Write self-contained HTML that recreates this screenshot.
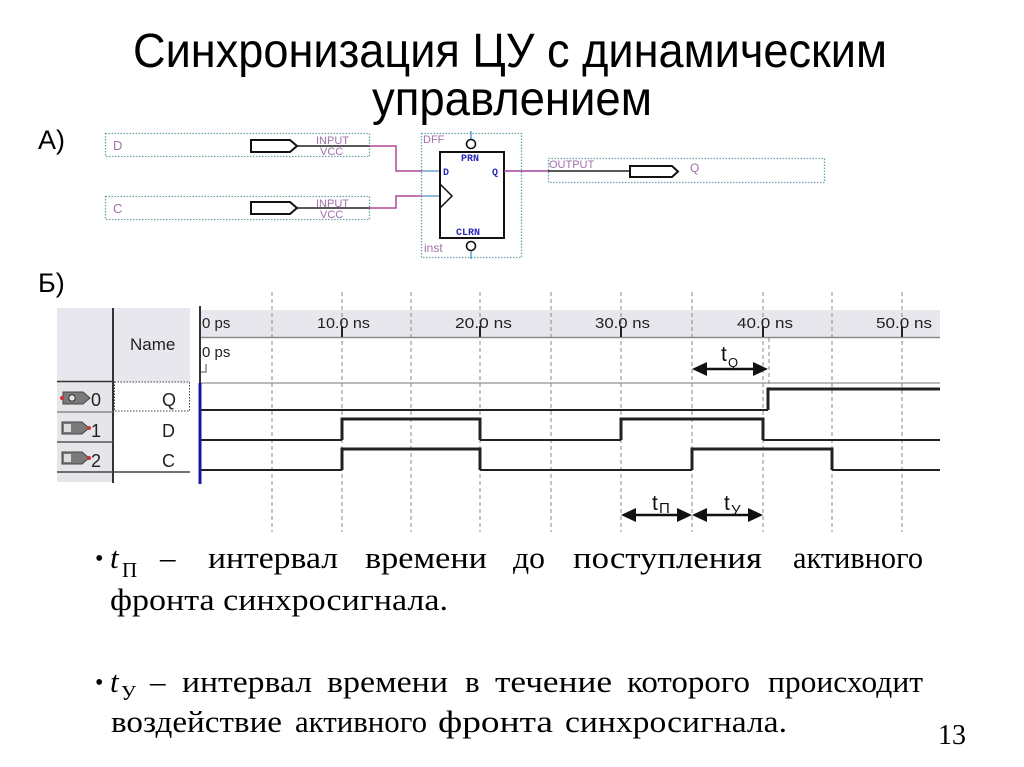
<!DOCTYPE html>
<html>
<head>
<meta charset="utf-8">
<style>
html,body{margin:0;padding:0;background:#fff;}
svg{display:block;}
</style>
</head>
<body>
<svg width="1024" height="767" viewBox="0 0 1024 767" xmlns="http://www.w3.org/2000/svg">
<rect width="1024" height="767" fill="#fff"/>

<!-- Title -->
<g font-family="'Liberation Sans', 'Noto Sans CJK SC', sans-serif" fill="#000">
  <text x="133" y="67" font-size="48" textLength="754" lengthAdjust="spacingAndGlyphs">Синхронизация ЦУ с динамическим</text>
  <text x="372" y="115" font-size="48" textLength="280" lengthAdjust="spacingAndGlyphs">управлением</text>
  <text x="38" y="149" font-size="27">А)</text>
  <text x="38" y="292" font-size="27">Б)</text>
</g>

<!-- Schematic -->
<g font-family="'Liberation Sans', sans-serif">
  <!-- D input -->
  <rect x="105.5" y="133.5" width="264" height="23" fill="none" stroke="#6aa3ab" stroke-width="1.3" stroke-dasharray="1.5 1.5"/>
  <text x="113" y="150" font-size="13" fill="#a070a8">D</text>
  <text x="316" y="144" font-size="11" fill="#a070a8">INPUT</text>
  <text x="320" y="155" font-size="11" fill="#a070a8">VCC</text>
  <line x1="297" y1="146" x2="370" y2="146" stroke="#222" stroke-width="1.5"/>
  <path d="M251 140 H290 L297 146 L290 152 H251 Z" fill="#fff" stroke="#111" stroke-width="2"/>
  <path d="M369 146 H396 V171 H422" fill="none" stroke="#b04898" stroke-width="1.5"/>
  <line x1="422" y1="171" x2="440" y2="171" stroke="#4a90d0" stroke-width="1.3"/>

  <!-- C input -->
  <rect x="105.5" y="196.5" width="264" height="23" fill="none" stroke="#6aa3ab" stroke-width="1.3" stroke-dasharray="1.5 1.5"/>
  <text x="113" y="213" font-size="13" fill="#a070a8">C</text>
  <text x="316" y="207" font-size="11" fill="#a070a8">INPUT</text>
  <text x="320" y="218" font-size="11" fill="#a070a8">VCC</text>
  <line x1="297" y1="208" x2="370" y2="208" stroke="#222" stroke-width="1.5"/>
  <path d="M251 202 H290 L297 208 L290 214 H251 Z" fill="#fff" stroke="#111" stroke-width="2"/>
  <path d="M369 208 H396 V196 H422" fill="none" stroke="#b04898" stroke-width="1.5"/>
  <line x1="422" y1="196" x2="440" y2="196" stroke="#4a90d0" stroke-width="1.3"/>

  <!-- DFF -->
  <rect x="421.5" y="133.5" width="100" height="124" fill="none" stroke="#6aa3ab" stroke-width="1.3" stroke-dasharray="1.5 1.5"/>
  <text x="423" y="143" font-size="11" fill="#a070a8">DFF</text>
  <text x="424" y="252" font-size="12" fill="#a070a8">inst</text>
  <line x1="471" y1="131" x2="471" y2="139" stroke="#4a90d0" stroke-width="1.3"/>
  <line x1="471" y1="251" x2="471" y2="259" stroke="#4a90d0" stroke-width="1.3"/>
  <circle cx="471" cy="144" r="4.5" fill="#fff" stroke="#111" stroke-width="1.6"/>
  <circle cx="471" cy="246" r="4.5" fill="#fff" stroke="#111" stroke-width="1.6"/>
  <rect x="440" y="152" width="64" height="86" fill="#fff" stroke="#111" stroke-width="2"/>
  <path d="M440 184 L452 196 L440 208" fill="none" stroke="#111" stroke-width="1.5"/>
  <g font-family="'Liberation Mono', monospace" font-weight="bold" fill="#2828b8" font-size="10">
    <text x="461" y="161">PRN</text>
    <text x="443" y="175">D</text>
    <text x="492" y="175">Q</text>
    <text x="456" y="235">CLRN</text>
  </g>

  <!-- Output -->
  <line x1="504" y1="171" x2="548" y2="171" stroke="#a040a0" stroke-width="1.5"/>
  <rect x="548.5" y="158.5" width="276" height="24" fill="none" stroke="#6aa3ab" stroke-width="1.3" stroke-dasharray="1.5 1.5"/>
  <text x="549" y="168" font-size="11" fill="#a070a8">OUTPUT</text>
  <line x1="548" y1="171" x2="630" y2="171" stroke="#222" stroke-width="1.5"/>
  <path d="M630 166 H672 L678 171.5 L672 177 H630 Z" fill="#fff" stroke="#111" stroke-width="2"/>
  <text x="690" y="172" font-size="12" fill="#a070a8">Q</text>
</g>

<!-- Waveform panel -->
<g font-family="'Liberation Sans', sans-serif" fill="#222">
  <rect x="57" y="308" width="133" height="74" fill="#e9e7ee"/>
  <rect x="57" y="382" width="56" height="100" fill="#e6e6ea"/>
  <rect x="200" y="310" width="740" height="27" fill="#e9e7ee"/>
  <line x1="200" y1="337.5" x2="940" y2="337.5" stroke="#8a8a8a" stroke-width="1.5"/>
  <line x1="200" y1="383" x2="940" y2="383" stroke="#bbb" stroke-width="2"/>

  <g stroke="#888" stroke-width="1" stroke-dasharray="4 3">
    <line x1="272" y1="292" x2="272" y2="532"/>
    <line x1="342" y1="292" x2="342" y2="532"/>
    <line x1="411" y1="292" x2="411" y2="532"/>
    <line x1="480" y1="292" x2="480" y2="532"/>
    <line x1="551" y1="292" x2="551" y2="532"/>
    <line x1="621" y1="292" x2="621" y2="532"/>
    <line x1="692" y1="292" x2="692" y2="532"/>
    <line x1="763" y1="292" x2="763" y2="532"/>
    <line x1="832" y1="292" x2="832" y2="532"/>
    <line x1="902" y1="292" x2="902" y2="532"/>
    <line x1="769" y1="338" x2="769" y2="390"/>
  </g>
  <g stroke="#222" stroke-width="2">
    <line x1="342" y1="326" x2="342" y2="337"/>
    <line x1="480" y1="326" x2="480" y2="337"/>
    <line x1="621" y1="326" x2="621" y2="337"/>
    <line x1="763" y1="326" x2="763" y2="337"/>
    <line x1="902" y1="326" x2="902" y2="337"/>
  </g>
  <g font-size="15">
    <text x="202" y="328">0 ps</text>
    <text x="317" y="328" textLength="53" lengthAdjust="spacingAndGlyphs">10.0 ns</text>
    <text x="455" y="328" textLength="57" lengthAdjust="spacingAndGlyphs">20.0 ns</text>
    <text x="595" y="328" textLength="55" lengthAdjust="spacingAndGlyphs">30.0 ns</text>
    <text x="737" y="328" textLength="56" lengthAdjust="spacingAndGlyphs">40.0 ns</text>
    <text x="876" y="328" textLength="56" lengthAdjust="spacingAndGlyphs">50.0 ns</text>
    <text x="202" y="357">0 ps</text>
  </g>
  <path d="M206 364 V372 H201" fill="none" stroke="#888" stroke-width="1.5"/>

  <line x1="113" y1="308" x2="113" y2="483" stroke="#333" stroke-width="2"/>
  <line x1="57" y1="381.5" x2="113" y2="381.5" stroke="#333" stroke-width="1.5"/>
  <rect x="114.5" y="382" width="75" height="29" fill="none" stroke="#444" stroke-width="1" stroke-dasharray="1.5 1.5"/>
  <line x1="57" y1="412" x2="113" y2="412" stroke="#777" stroke-width="1.2"/>
  <line x1="57" y1="442" x2="113" y2="442" stroke="#555" stroke-width="1.5"/>
  <line x1="57" y1="472" x2="190" y2="472" stroke="#444" stroke-width="1.5"/>
  <line x1="200" y1="306" x2="200" y2="383" stroke="#333" stroke-width="2"/>
  <line x1="200" y1="383" x2="200" y2="484" stroke="#1a1aa0" stroke-width="3"/>

  <text x="130" y="350" font-size="17">Name</text>
  <g font-size="18">
    <text x="162" y="406">Q</text>
    <text x="162" y="437">D</text>
    <text x="162" y="467">C</text>
    <text x="91" y="406">0</text>
    <text x="91" y="437">1</text>
    <text x="91" y="467">2</text>
  </g>
  <path d="M63 392 H83 L90 398 L83 404 H63 Z" fill="#7a7a7a" stroke="#444" stroke-width="1"/>
  <circle cx="72" cy="398" r="3.2" fill="#e8e8e8" stroke="#333" stroke-width="1"/>
  <circle cx="62" cy="398" r="2" fill="#d03030"/>
  <path d="M62 422 H82 L89 428 L82 434 H62 Z" fill="#7a7a7a" stroke="#444" stroke-width="1"/>
  <rect x="64" y="424" width="7" height="8" fill="#ddd"/>
  <circle cx="89" cy="428" r="2" fill="#d03030"/>
  <path d="M62 452 H82 L89 458 L82 464 H62 Z" fill="#7a7a7a" stroke="#444" stroke-width="1"/>
  <rect x="64" y="454" width="7" height="8" fill="#ddd"/>
  <circle cx="89" cy="458" r="2" fill="#d03030"/>

  <g fill="none" stroke="#222" stroke-linejoin="miter">
    <path d="M201 410 H768" stroke-width="2"/>
    <path d="M768 410 V389 H940" stroke-width="3"/>
    <path d="M201 440 H342 M480 440 H621 M763 440 H940" stroke-width="2"/>
    <path d="M342 440 V419 H480 V440 M621 440 V419 H763 V440" stroke-width="3"/>
    <path d="M201 470 H342 M480 470 H692 M832 470 H940" stroke-width="2"/>
    <path d="M342 470 V449 H480 V470 M692 470 V449 H832 V470" stroke-width="3"/>
  </g>

  <g stroke="#111" stroke-width="2.5">
    <line x1="700" y1="369" x2="760" y2="369"/>
    <line x1="629" y1="515" x2="684" y2="515"/>
    <line x1="700" y1="515" x2="755" y2="515"/>
  </g>
  <g fill="#111">
    <polygon points="692,369 707,362 707,376"/>
    <polygon points="768,369 753,362 753,376"/>
    <polygon points="621,515 636,508 636,522"/>
    <polygon points="692,515 677,508 677,522"/>
    <polygon points="692,515 707,508 707,522"/>
    <polygon points="763,515 748,508 748,522"/>
  </g>
  <g fill="#111">
    <text x="721" y="361" font-size="21">t</text>
    <text x="728" y="367" font-size="13">Q</text>
    <text x="652" y="510" font-size="21">t</text>
    <text x="659" y="513" font-size="15">П</text>
    <text x="724" y="510" font-size="21">t</text>
    <text x="731" y="515" font-size="15">У</text>
  </g>
</g>

<!-- Bottom text -->
<g font-family="'Liberation Serif', 'Noto Serif CJK SC', serif" fill="#000" font-size="31">
  <text x="95" y="566" font-size="24">•</text>
  <text x="110" y="568" font-style="italic">t</text>
  <text x="122" y="577" font-size="21">П</text>
  <text x="160" y="568">–</text>
  <text x="208" y="568" textLength="130" lengthAdjust="spacingAndGlyphs">интервал</text>
  <text x="365" y="568" textLength="122" lengthAdjust="spacingAndGlyphs">времени</text>
  <text x="513" y="568" textLength="32" lengthAdjust="spacingAndGlyphs">до</text>
  <text x="573" y="568" textLength="189" lengthAdjust="spacingAndGlyphs">поступления</text>
  <text x="793" y="568" textLength="130" lengthAdjust="spacingAndGlyphs">активного</text>

  <text x="110" y="610" textLength="338" lengthAdjust="spacingAndGlyphs">фронта синхросигнала.</text>

  <text x="95" y="690" font-size="24">•</text>
  <text x="110" y="692" font-style="italic">t</text>
  <text x="121" y="700" font-size="21">У</text>
  <text x="150" y="692">–</text>
  <text x="182" y="692" textLength="130" lengthAdjust="spacingAndGlyphs">интервал</text>
  <text x="327" y="692" textLength="121" lengthAdjust="spacingAndGlyphs">времени</text>
  <text x="465" y="692">в</text>
  <text x="495" y="692" textLength="117" lengthAdjust="spacingAndGlyphs">течение</text>
  <text x="627" y="692" textLength="123" lengthAdjust="spacingAndGlyphs">которого</text>
  <text x="768" y="692" textLength="155" lengthAdjust="spacingAndGlyphs">происходит</text>

  <text x="111" y="732" textLength="171" lengthAdjust="spacingAndGlyphs">воздействие</text>
  <text x="295" y="732" textLength="132" lengthAdjust="spacingAndGlyphs">активного</text>
  <text x="438" y="732" textLength="115" lengthAdjust="spacingAndGlyphs">фронта</text>
  <text x="565" y="732" textLength="222" lengthAdjust="spacingAndGlyphs">синхросигнала.</text>

  <text x="938" y="744" font-size="28">13</text>
</g>
</svg>
</body>
</html>
